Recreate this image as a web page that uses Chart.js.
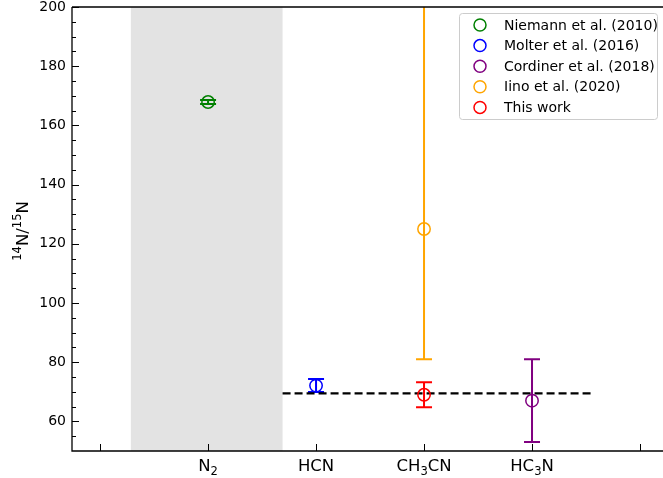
<!DOCTYPE html>
<html>
<head>
<meta charset="utf-8">
<script src="https://cdn.jsdelivr.net/npm/chart.js@4"></script>
<style>
  html, body { margin: 0; padding: 0; background: #fff; overflow: hidden; }
  #wrap { width: 663px; height: 478px; }
</style>
</head>
<body>
<div id="wrap"><canvas id="chart" width="663" height="478"></canvas></div>
<script>
// Data
const xTickValues = [0, 1, 2, 3, 4, 5];
const xTickLabels = ['', 'N_2', 'HCN', 'CH_3CN', 'HC_3N', ''];
const yMajorTicks = [60, 80, 100, 120, 140, 160, 180, 200];
const yMinorTicks = [55, 65, 70, 75, 85, 90, 95, 105, 110, 115, 125, 130, 135, 145, 150, 155, 165, 170, 175, 185, 190, 195];
const yTitle = '^14N/^15N';

const seriesNames = ['Niemann et al. (2010)', 'Molter et al. (2016)', 'Cordiner et al. (2018)', 'Iino et al. (2020)', 'This work'];
const seriesColors = ['#008000', '#0000ff', '#800080', '#ffa500', '#ff0000'];
const seriesX = [[1], [2], [4], [3], [3]];
const seriesY = [[167.9], [72.1], [67], [125], [69]];
const seriesErrLow = [[0.7], [2.2], [14], [44], [4.2]];
const seriesErrHigh = [[0.7], [2.2], [14], [175], [4.2]];

const refLineX = [1.69, 4.55];
const refLineY = [69.5, 69.5];
const bandX = [0.285, 1.69];

const FONT = "'DejaVu Sans', sans-serif";

// split 'CH_3CN' / '^14N' into pieces with sub/superscripts
function pieces(str, size) {
  const out = [];
  let i = 0;
  while (i < str.length) {
    const c = str[i];
    if (c === '_' || c === '^') {
      let j = i + 1;
      while (j < str.length && /[0-9]/.test(str[j])) j++;
      out.push({ t: str.slice(i + 1, j), shift: c === '_' ? size * 0.22 : -size * 0.42 });
      i = j;
    } else {
      let j = i;
      while (j < str.length && str[j] !== '_' && str[j] !== '^') j++;
      out.push({ t: str.slice(i, j), shift: 0 });
      i = j;
    }
  }
  return out;
}

function drawRich(ctx, str, cx, baseY, size) {
  const parts = pieces(str, size);
  let total = 0;
  parts.forEach(p => {
    ctx.font = (p.shift ? size * 0.7 : size) + 'px ' + FONT;
    p.w = ctx.measureText(p.t).width;
    total += p.w;
  });
  let x = cx - total / 2;
  ctx.textAlign = 'left';
  ctx.textBaseline = 'alphabetic';
  parts.forEach(p => {
    ctx.font = (p.shift ? size * 0.7 : size) + 'px ' + FONT;
    ctx.fillText(p.t, x, baseY + p.shift);
    x += p.w;
  });
}

// Shaded band behind everything
const bandPlugin = {
  id: 'band',
  beforeDatasetsDraw(chart) {
    const { ctx, chartArea, scales } = chart;
    const x0 = scales.x.getPixelForValue(bandX[0]);
    const x1 = scales.x.getPixelForValue(bandX[1]);
    ctx.save();
    ctx.fillStyle = '#e3e3e3';
    ctx.fillRect(x0, chartArea.top, x1 - x0, chartArea.bottom - chartArea.top);
    ctx.restore();
  }
};

// Error bars with caps
const errorBarPlugin = {
  id: 'errorBars',
  beforeDatasetsDraw(chart) {
    const { ctx, chartArea, scales } = chart;
    ctx.save();
    ctx.beginPath();
    ctx.rect(chartArea.left, chartArea.top, chartArea.right - chartArea.left, chartArea.bottom - chartArea.top);
    ctx.clip();
    seriesNames.forEach((name, i) => {
      ctx.strokeStyle = seriesColors[i];
      ctx.lineWidth = 2;
      seriesX[i].forEach((xv, j) => {
        const px = scales.x.getPixelForValue(xv);
        const lo = scales.y.getPixelForValue(seriesY[i][j] - seriesErrLow[i][j]);
        const hi = scales.y.getPixelForValue(seriesY[i][j] + seriesErrHigh[i][j]);
        ctx.beginPath();
        ctx.moveTo(px, lo);
        ctx.lineTo(px, hi);
        ctx.moveTo(px - 8, lo);
        ctx.lineTo(px + 8, lo);
        ctx.moveTo(px - 8, hi);
        ctx.lineTo(px + 8, hi);
        ctx.stroke();
      });
    });
    ctx.restore();
  }
};

// Inward ticks, spines, tick labels with subscripts, y title, legend
const framePlugin = {
  id: 'frame',
  afterDraw(chart) {
    const { ctx, chartArea, scales } = chart;
    ctx.save();
    ctx.strokeStyle = '#000';
    ctx.lineWidth = 1;
    ctx.beginPath();
    yMajorTicks.forEach(v => {
      const py = Math.round(scales.y.getPixelForValue(v)) + 0.5;
      ctx.moveTo(chartArea.left, py);
      ctx.lineTo(chartArea.left + 7, py);
    });
    yMinorTicks.forEach(v => {
      const py = Math.round(scales.y.getPixelForValue(v)) + 0.5;
      ctx.moveTo(chartArea.left, py);
      ctx.lineTo(chartArea.left + 4, py);
    });
    xTickValues.forEach(v => {
      const px = Math.round(scales.x.getPixelForValue(v)) + 0.5;
      ctx.moveTo(px, chartArea.bottom);
      ctx.lineTo(px, chartArea.bottom - 7);
    });
    ctx.stroke();

    ctx.lineWidth = 1.3;
    ctx.beginPath();
    ctx.moveTo(chartArea.left, chartArea.top);
    ctx.lineTo(chartArea.right, chartArea.top);
    ctx.moveTo(chartArea.left, chartArea.top);
    ctx.lineTo(chartArea.left, chartArea.bottom);
    ctx.lineTo(chartArea.right, chartArea.bottom);
    ctx.stroke();

    // x tick labels
    ctx.fillStyle = '#000';
    xTickValues.forEach((v, i) => {
      if (!xTickLabels[i]) return;
      drawRich(ctx, xTickLabels[i], scales.x.getPixelForValue(v), chartArea.bottom + 20, 16.5);
    });

    // y title
    ctx.save();
    ctx.translate(28, (chartArea.top + chartArea.bottom) / 2 + 2);
    ctx.rotate(-Math.PI / 2);
    drawRich(ctx, yTitle, 0, 0, 16.5);
    ctx.restore();

    // legend
    const lx = 459, ly = 13, lw = 198, lh = 106;
    ctx.fillStyle = 'rgba(255,255,255,0.8)';
    ctx.strokeStyle = '#cccccc';
    ctx.lineWidth = 1;
    ctx.beginPath();
    ctx.roundRect(lx + 0.5, ly + 0.5, lw, lh, 3);
    ctx.fill();
    ctx.stroke();
    ctx.font = '14px ' + FONT;
    ctx.textBaseline = 'middle';
    ctx.textAlign = 'left';
    seriesNames.forEach((name, i) => {
      const ry = 25 + i * 20.6;
      ctx.strokeStyle = seriesColors[i];
      ctx.lineWidth = 1.5;
      ctx.beginPath();
      ctx.arc(480, ry, 6, 0, Math.PI * 2);
      ctx.stroke();
      ctx.fillStyle = '#000';
      ctx.fillText(name, 504, ry + 1);
    });
    ctx.restore();
  }
};

const datasets = seriesNames.map((name, i) => ({
  label: name,
  data: seriesX[i].map((xv, j) => ({ x: xv, y: seriesY[i][j] })),
  pointStyle: 'circle',
  pointRadius: 6.2,
  pointBorderWidth: 1.5,
  pointBorderColor: seriesColors[i],
  pointBackgroundColor: 'rgba(0,0,0,0)',
  showLine: false
}));

datasets.push({
  label: 'ref',
  data: refLineX.map((xv, j) => ({ x: xv, y: refLineY[j] })),
  showLine: true,
  borderColor: '#000',
  borderWidth: 2.2,
  borderDash: [8, 4],
  pointRadius: 0
});

new Chart(document.getElementById('chart'), {
  type: 'scatter',
  data: { datasets },
  options: {
    responsive: false,
    animation: false,
    layout: { autoPadding: false, padding: 0 },
    plugins: {
      legend: { display: false },
      tooltip: { enabled: false }
    },
    scales: {
      x: {
        type: 'linear',
        min: -0.26,
        max: 5.213,
        afterBuildTicks(scale) { scale.ticks = xTickValues.map(v => ({ value: v })); },
        afterFit(scale) { scale.height = 27; scale.paddingLeft = 0; scale.paddingRight = 0; },
        grid: { display: false, drawTicks: false },
        border: { display: false },
        ticks: { display: false }
      },
      y: {
        min: 50,
        max: 200,
        afterBuildTicks(scale) { scale.ticks = yMajorTicks.map(v => ({ value: v })); },
        afterFit(scale) { scale.width = 72; scale.paddingTop = 7; scale.paddingBottom = 0; },
        grid: { display: false, drawTicks: false },
        border: { display: false },
        ticks: {
          padding: 6,
          color: '#000',
          font: { family: FONT, size: 14 }
        }
      }
    }
  },
  plugins: [bandPlugin, errorBarPlugin, framePlugin]
});
</script>
</body>
</html>
